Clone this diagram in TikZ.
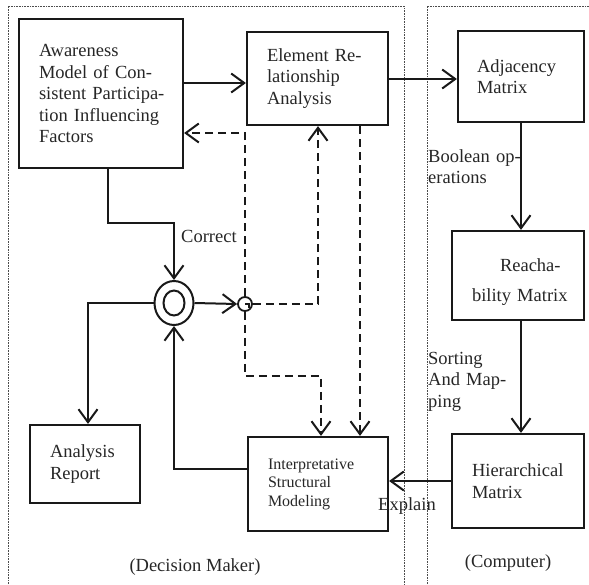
\documentclass[tikz,border=0pt]{standalone}
\usepackage{fontspec}
\setmainfont{Liberation Serif}
\usetikzlibrary{arrows.meta,shapes.geometric}
\begin{document}
\begin{tikzpicture}[x=1pt,y=-1pt,
 box/.style={draw=black!90,line width=2.2pt,rectangle,inner sep=0pt,align=left,
   font=\fontsize{18.5}{21.5}\selectfont,text=black!85},
 lbl/.style={inner sep=0pt,font=\fontsize{18.5}{21.5}\selectfont,text=black!85},
 arr/.style={draw=black!90,line width=2pt,-{Straight Barb[length=13pt,width=19pt]}},
 darr/.style={arr,dash pattern=on 8pt off 5pt},
 region/.style={draw=black!70,line width=0.7pt,dash pattern=on 0.8pt off 0.8pt}]
\useasboundingbox (0,0) rectangle (589,584);

% regions
\draw[region] (8,584) -- (8,6) -- (404,6) -- (404,584);
\draw[region] (427,584) -- (427,6) -- (589,6);

% boxes
\node[box,minimum width=164pt,minimum height=149pt,text width=124pt] (aw) at (101,93.5)
 {Awareness\\
  \makebox[124pt][s]{Model of Con-}\\
  \makebox[124pt][s]{sistent Participa-}\\
  \makebox[124pt][s]{tion Influencing}\\
  Factors};
\node[box,minimum width=141pt,minimum height=93pt,text width=101pt] (el) at (317.5,78.5)
 {\makebox[100pt][s]{Element Re-}\\lationship\\Analysis};
\node[box,minimum width=126pt,minimum height=91pt,text width=88pt] (adj) at (521,76.5)
 {Adjacency\\Matrix};
\node[box,minimum width=132pt,minimum height=89pt,text width=92pt] (re) at (518,275.5)
 {\rule{0pt}{25pt}\hspace*{28pt}Reacha-\\[8.5pt]\mbox{bility Matrix}};
\node[box,minimum width=132pt,minimum height=94pt,text width=92pt] (hi) at (518,481)
 {Hierarchical\\Matrix};
\node[box,minimum width=110pt,minimum height=78pt,text width=70pt] (rep) at (85,464)
 {Analysis\\Report};
\node[box,minimum width=140pt,minimum height=94pt,text width=100pt,
  font=\fontsize{16}{18.5}\selectfont] (ism) at (318,484)
 {Interpretative\\Structural\\Modeling};

% circles
\node[ellipse,draw=black!90,line width=2pt,minimum width=39pt,minimum height=44pt,inner sep=0pt] (cir) at (174,303) {};
\draw[line width=2pt,black!90] (cir.center) ellipse [x radius=10.5pt,y radius=12.5pt];
\node[circle,draw=black!90,line width=1.8pt,minimum size=14pt,inner sep=0pt] (sc) at (245,304) {};
\draw[line width=1.5pt,black!90] (sc.center) -- ++(4,0) -- ++(0,4);

% labels
\node[lbl,anchor=base west] (correct) at (181,242) {Correct};
\node[lbl,anchor=base west,text width=92pt,align=left] (bool) at (428,162)
 {\makebox[92pt][s]{Boolean op-}\\erations};
\node[lbl,anchor=base west,text width=92pt,align=left] (sort) at (428,364)
 {Sorting\\\makebox[92pt][s]{And Map-}\\ping};
\node[lbl,anchor=base west] (expl) at (378,510) {Explain};
\node[lbl,anchor=base] (dm) at (195,571) {(Decision Maker)};
\node[lbl,anchor=base] (comp) at (508,567) {(Computer)};

% solid connectors
\draw[arr] (aw.east |- 0,83) -- (el.west |- 0,83);
\draw[arr] (el.east |- 0,79) -- (adj.west |- 0,79);
\draw[arr] (aw.south -| 108,0) -- (108,223) -| (cir.north);
\draw[arr] (cir.west) -| ([xshift=3pt]rep.north);
\draw[arr] (ism.west |- 0,469) -| (cir.south);
\draw[arr] (cir.east) -- (sc.west);
\draw[arr] (adj.south) -- (adj.south |- re.north);
\draw[arr] (re.south -| adj.south) -- (hi.north -| adj.south);
\draw[arr] (hi.west) -- (hi.west -| ism.east);

% dashed connectors
\draw[darr] (sc.north) |- (aw.east |- 0,133);
\draw[darr] (sc.east) -| (el.south -| 318,0);
\draw[darr] (sc.south) |- (321,376) -- (ism.north -| 321,0);
\draw[darr] (el.south -| 360,0) -- (ism.north -| 360,0);
\end{tikzpicture}
\end{document}
